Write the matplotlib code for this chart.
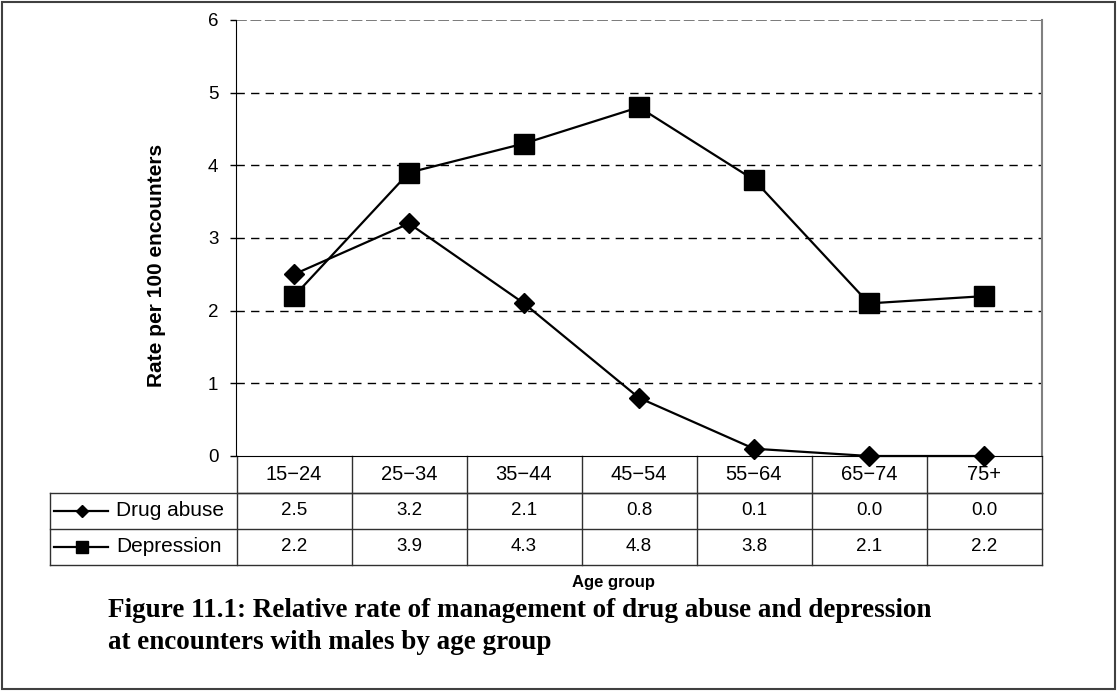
import matplotlib
matplotlib.use("Agg")
import matplotlib.pyplot as plt
from matplotlib.transforms import blended_transform_factory
from matplotlib.patches import Rectangle
import matplotlib.lines as mlines

age_groups = ["15\u221224", "25\u221234", "35\u221244", "45\u221254", "55\u221264", "65\u221274", "75+"]
drug_abuse = [2.5, 3.2, 2.1, 0.8, 0.1, 0.0, 0.0]
depression = [2.2, 3.9, 4.3, 4.8, 3.8, 2.1, 2.2]
series_names = ["Drug abuse", "Depression"]
y_ticks = [0, 1, 2, 3, 4, 5, 6]

W, H = 1117, 691
fig = plt.figure(figsize=(W / 100, H / 100), dpi=100)
plt.rcParams['font.family'] = ['Liberation Sans', 'DejaVu Sans']

L, R, T, B = 236.5, 1041.5, 20, 456
ax = fig.add_axes([L / W, 1 - B / H, (R - L) / W, (B - T) / H])

x = list(range(len(age_groups)))
ax.plot(x, drug_abuse, color='black', lw=1.6, marker='D', markersize=10.5, zorder=5, clip_on=False)
ax.plot(x, depression, color='black', lw=1.6, marker='s', markersize=14, zorder=5, clip_on=False)

ax.set_xlim(-0.5, len(age_groups) - 0.5)
ax.set_ylim(0, 6)
ax.set_yticks(y_ticks)
ax.set_yticklabels([str(v) for v in y_ticks], fontsize=13.5)
ax.set_xticks([])
for v in y_ticks[1:-1]:
    ax.axhline(v, color='black', lw=1, ls=(0, (6, 4.5)), zorder=1)
ax.axhline(6, color='#707070', lw=1.3, ls=(0, (6, 2)), zorder=1)
ax.spines['top'].set_visible(False)
ax.spines['right'].set_color('#808080')
ax.spines['right'].set_linewidth(1.5)
ax.spines['left'].set_color('black')
ax.spines['bottom'].set_color('black')
ax.tick_params(axis='y', direction='out', length=4.5, width=1, pad=8.5, colors='black')

fig.text(156 / W, 1 - 265.5 / H, "Rate per 100 encounters", rotation=90, ha='center', va='center',
         fontsize=15, fontweight='bold')

# table below the axes
tr = blended_transform_factory(ax.transData, ax.transAxes)
ah = B - T
def yf(p):
    return (B - p) / ah
def px(p):
    return -0.5 + (p - L) / ((R - L) / 7.0)
xl = px(50)
n = len(age_groups)
lc = '#303030'
r1, r2, r3 = yf(492.7), yf(529), yf(564.5)

def line(xs, ys):
    ax.add_line(mlines.Line2D(xs, ys, transform=tr, color=lc, lw=1, clip_on=False))

line([-0.5, n - 0.5], [r1, r1])
line([xl, n - 0.5], [r1, r1])
line([xl, n - 0.5], [r2, r2])
line([xl, n - 0.5], [r3, r3])
line([xl, xl], [r1, r3])
for i in range(n + 1):
    line([i - 0.5, i - 0.5], [0, r3])

for i, g in enumerate(age_groups):
    ax.text(i, (0 + r1) / 2, g, transform=tr, ha='center', va='center', fontsize=14.5)
rows = [(drug_abuse, 'D', 6.0, (r1 + r2) / 2), (depression, 's', 9.0, (r2 + r3) / 2)]
for r, (vals, mk, ms, yc) in enumerate(rows):
    for i, v in enumerate(vals):
        ax.text(i, yc, f"{v:.1f}", transform=tr, ha='center', va='center', fontsize=13.5)
    ax.add_line(mlines.Line2D([px(54), px(108)], [yc, yc], transform=tr, color='black', lw=1.6, clip_on=False))
    ax.add_line(mlines.Line2D([px(82)], [yc], transform=tr, color='black', marker=mk, markersize=ms, clip_on=False))
    ax.text(px(116), yc, series_names[r], transform=tr, ha='left', va='center', fontsize=15)

fig.text(614 / W, 1 - 583 / H, "Age group", ha='center', va='center', fontsize=12, fontweight='bold')

fig.text(108 / W, 1 - 617 / H, "Figure 11.1: Relative rate of management of drug abuse and depression",
         ha='left', va='baseline', fontsize=19.5, fontweight='bold', family=['Liberation Serif'])
fig.text(108 / W, 1 - 649 / H, "at encounters with males by age group",
         ha='left', va='baseline', fontsize=19.5, fontweight='bold', family=['Liberation Serif'])

fig.patches.append(Rectangle((2 / W, 2 / H), (W - 4) / W, (H - 4) / H, transform=fig.transFigure,
                             fill=False, edgecolor='#404040', lw=1.5))

fig.savefig("out.png", dpi=100)
